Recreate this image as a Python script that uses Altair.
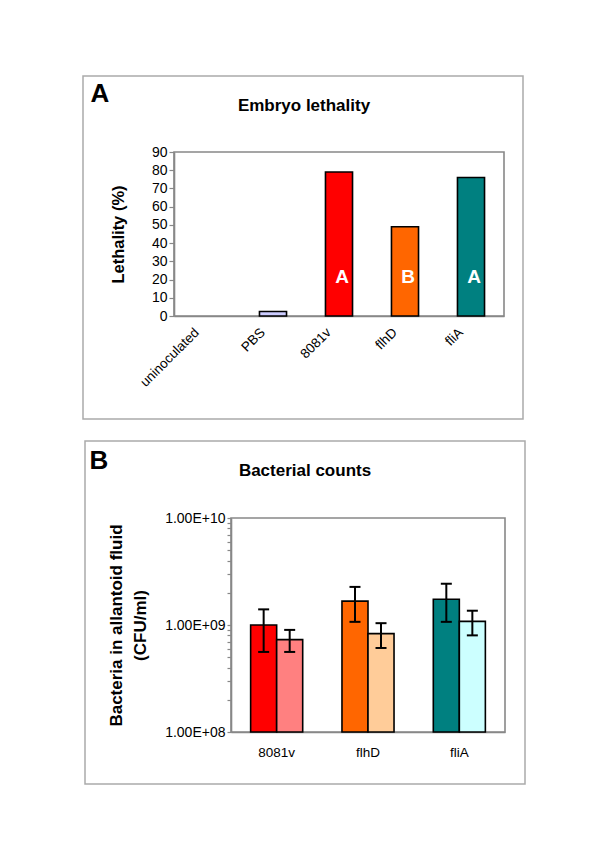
import altair as alt
import pandas as pd

# ---------------- Panel A data ----------------
cats_a = ["uninoculated", "PBS", "8081v", "flhD", "fliA"]
lethality = [0, 2.5, 79, 49, 76]
colors_a = ["#ffffff", "#ccccff", "#ff0000", "#ff6600", "#008080"]
groups_a = ["", "", "A", "B", "A"]
ticks_a = [0, 10, 20, 30, 40, 50, 60, 70, 80, 90]

# ---------------- Panel B data ----------------
strains_b = ["8081v", "flhD", "fliA"]
series_b = ["series 1", "series 2"]
counts_s1 = [1.0e9, 1.67e9, 1.74e9]
counts_s2 = [7.3e8, 8.3e8, 1.08e9]
lo_s1 = [5.6e8, 1.07e9, 1.07e9]
hi_s1 = [1.4e9, 2.27e9, 2.43e9]
lo_s2 = [5.6e8, 6.1e8, 8.0e8]
hi_s2 = [9.0e8, 1.04e9, 1.36e9]
colors_s1 = ["#ff0000", "#ff6600", "#008080"]
colors_s2 = ["#ff8080", "#ffcc99", "#ccffff"]
ticks_b = [k * 10.0 ** e for e in (8, 9) for k in range(1, 10)] + [1e10]

FONT = "Liberation Sans"
GRAY = "#888888"

# ---------------- Panel A ----------------
dfa = pd.DataFrame({"cat": cats_a, "val": lethality, "grp": groups_a})

xa = alt.X("cat:N", sort=cats_a,
           scale=alt.Scale(domain=cats_a, paddingInner=0.59, paddingOuter=0.295),
           axis=alt.Axis(title=None, labelAngle=-45, labelAlign="right",
                         labelBaseline="middle", ticks=False,
                         labelPadding=14, labelOffset=-10, labelFontSize=13.5))
ya = alt.Y("val:Q", scale=alt.Scale(domain=[0, 90], nice=False),
           axis=alt.Axis(values=ticks_a, title="Lethality (%)", titleFontSize=16.5,
                         titleFontWeight="bold", titlePadding=25, labelFontSize=14,
                         tickSize=5, grid=False))

bars_a = alt.Chart(dfa).transform_filter("datum.val > 0").mark_bar(
    stroke="black", strokeWidth=1.6).encode(
    x=xa, y=ya,
    color=alt.Color("cat:N", scale=alt.Scale(domain=cats_a, range=colors_a), legend=None))

letters_a = alt.Chart(dfa).transform_filter("datum.grp != ''").mark_text(
    color="white", fontWeight="bold", fontSize=19, font=FONT, baseline="middle", dx=3).encode(
    x=alt.X("cat:N", sort=cats_a), y=alt.value(125), text="grp:N")

title_a = alt.Chart(pd.DataFrame({"t": ["Embryo lethality"]})).mark_text(
    fontWeight="bold", fontSize=17, font=FONT, align="center", baseline="alphabetic").encode(
    text="t:N", x=alt.value(130), y=alt.value(-41))

tag_a = alt.Chart(pd.DataFrame({"t": ["A"]})).mark_text(
    fontWeight="bold", fontSize=26, font=FONT, align="center", baseline="alphabetic").encode(
    text="t:N", x=alt.value(-74), y=alt.value(-50))

box_a = alt.Chart(pd.DataFrame({"a": [0]})).mark_rect(
    fill="transparent", stroke="#aaaaaa", strokeWidth=1.5).encode(
    x=alt.value(-91), x2=alt.value(349), y=alt.value(-76), y2=alt.value(267))

panel_a = alt.layer(box_a, bars_a, letters_a, title_a, tag_a).properties(width=330, height=164)

# ---------------- Panel B ----------------
# view origin shared with panel A; the plot area occupies [57, 331] of this view
rows = []
for i, s in enumerate(strains_b):
    rows.append({"strain": s, "series": series_b[0], "value": counts_s1[i],
                 "lo": lo_s1[i], "hi": hi_s1[i], "key": s + "|" + series_b[0]})
    rows.append({"strain": s, "series": series_b[1], "value": counts_s2[i],
                 "lo": lo_s2[i], "hi": hi_s2[i], "key": s + "|" + series_b[1]})
dfb = pd.DataFrame(rows)
key_domain = [s + "|" + series_b[0] for s in strains_b] + [s + "|" + series_b[1] for s in strains_b]
key_range = colors_s1 + colors_s2

xb = alt.X("strain:N", sort=strains_b,
           scale=alt.Scale(domain=strains_b, range=[57, 331], paddingInner=0.43,
                           paddingOuter=0.215),
           axis=alt.Axis(title=None, labelAngle=0, ticks=False, labelPadding=13,
                         labelFontSize=13.5))
xo = alt.XOffset("series:N", sort=series_b,
                 scale=alt.Scale(domain=series_b, paddingInner=0, paddingOuter=0))
label_expr = ("abs(log(datum.value)/LN10 - round(log(datum.value)/LN10)) < 0.000001 ? "
              "'1.00E+' + (round(log(datum.value)/LN10) < 10 ? '0' : '') + "
              "round(log(datum.value)/LN10) : ''")
yb = alt.Y("value:Q", scale=alt.Scale(type="log", domain=[1e8, 1e10], nice=False),
           axis=alt.Axis(values=ticks_b, labelExpr=label_expr, labelOverlap=False,
                         offset=-57,
                         title=["Bacteria in allantoid fluid", "(CFU/ml)"],
                         titleFontSize=17, titleFontWeight="bold", titlePadding=15,
                         titleLineHeight=24, labelFontSize=14, tickSize=4, grid=False))

frame_b = alt.Chart(pd.DataFrame({"a": [0]})).mark_rect(
    fill="transparent", stroke=GRAY, strokeWidth=1.6).encode(
    x=alt.value(57), x2=alt.value(331), y=alt.value(0), y2=alt.value(214))

bars_b = alt.Chart(dfb).mark_bar(stroke="black", strokeWidth=1.6).encode(
    x=xb, xOffset=xo, y=yb, y2=alt.datum(1e8),
    color=alt.Color("key:N", scale=alt.Scale(domain=key_domain, range=key_range), legend=None))

err_b = alt.Chart(dfb).mark_rule(color="black", strokeWidth=2).encode(
    x=alt.X("strain:N", sort=strains_b), xOffset=alt.XOffset("series:N", sort=series_b),
    y="lo:Q", y2="hi:Q")
cap_lo = alt.Chart(dfb).mark_point(shape="M-1,0L1,0", size=121, filled=False,
                                   stroke="black", strokeWidth=2, opacity=1).encode(
    x=alt.X("strain:N", sort=strains_b), xOffset=alt.XOffset("series:N", sort=series_b),
    y="lo:Q")
cap_hi = alt.Chart(dfb).mark_point(shape="M-1,0L1,0", size=121, filled=False,
                                   stroke="black", strokeWidth=2, opacity=1).encode(
    x=alt.X("strain:N", sort=strains_b), xOffset=alt.XOffset("series:N", sort=series_b),
    y="hi:Q")

title_b = alt.Chart(pd.DataFrame({"t": ["Bacterial counts"]})).mark_text(
    fontWeight="bold", fontSize=17, font=FONT, align="center", baseline="alphabetic").encode(
    text="t:N", x=alt.value(131), y=alt.value(-42))

tag_b = alt.Chart(pd.DataFrame({"t": ["B"]})).mark_text(
    fontWeight="bold", fontSize=26, font=FONT, align="center", baseline="alphabetic").encode(
    text="t:N", x=alt.value(-75), y=alt.value(-49))

box_b = alt.Chart(pd.DataFrame({"a": [0]})).mark_rect(
    fill="transparent", stroke="#aaaaaa", strokeWidth=1.5).encode(
    x=alt.value(-89), x2=alt.value(351), y=alt.value(-77), y2=alt.value(266))

panel_b = alt.layer(box_b, frame_b, bars_b, err_b, cap_lo, cap_hi, title_b, tag_b).properties(
    width=331, height=214, view=alt.ViewConfig(stroke="transparent"))

chart = alt.vconcat(panel_a, panel_b, spacing=18).resolve_scale(color="independent").properties(
    padding={"left": 73, "top": 66, "right": 5, "bottom": 5}
).configure_view(stroke=GRAY, strokeWidth=1.6).configure_axis(
    domainColor=GRAY, domainWidth=1.6, tickColor=GRAY, tickWidth=1.2,
    labelFont=FONT, titleFont=FONT, labelColor="black", titleColor="black")

chart.save("out.html", embed_options={"renderer": "svg", "actions": False})
